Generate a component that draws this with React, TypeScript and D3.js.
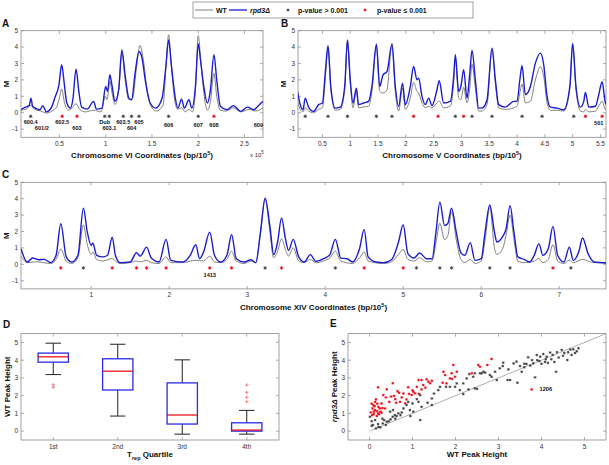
import React from 'react';
import * as d3 from 'd3';

const FONT = "'Liberation Sans', Arial, Helvetica, sans-serif";
const BLUE = '#1c1ccf';
const GRAYLINE = '#808080';
const RED = '#e8000b';
const DARK = '#3c3c3c';
const AXIS = '#8a8a8a';

// ---------- Panel A : Chromosome VI ----------
const chr6WT = [
  [0.085, 0.15], [0.15, 0.25], [0.193, 0.45], [0.23, 0.2], [0.3, 0.1], [0.36, -0.02], [0.42, 0.1], [0.47, 0.35],
  [0.5, 0.9], [0.525, 1.45], [0.555, 0.6], [0.6, 0.15], [0.64, 0.3], [0.68, 0.55], [0.72, 0.2], [0.78, 0.05],
  [0.87, 0.15], [0.95, 0.05], [0.995, 1.0], [1.015, 0.8], [1.045, 1.9], [1.075, 1.0], [1.1, 0.5], [1.14, 1.3],
  [1.175, 3.65], [1.21, 2.0], [1.25, 0.8], [1.29, 0.85], [1.33, 2.6], [1.37, 4.1], [1.41, 3.1], [1.45, 1.3],
  [1.5, 0.3], [1.55, 0.1], [1.62, 0.45], [1.65, 2.6], [1.68, 4.75], [1.71, 2.8], [1.75, 0.6], [1.78, 0.2],
  [1.82, 0.3], [1.86, 0.05], [1.9, 0.2], [1.94, 0.05], [1.97, 1.4], [2.0, 4.7], [2.03, 3.0], [2.07, 0.8],
  [2.1, 0.15], [2.13, 0.6], [2.17, 2.4], [2.2, 1.0], [2.24, 0.15], [2.3, 0.1], [2.38, 0.3], [2.46, 0.05],
  [2.55, 0.2], [2.62, 0.1], [2.7, 0.3]
];
const chr6Rpd3 = [
  [0.085, 0.2], [0.14, 0.35], [0.175, 0.45], [0.193, 0.89], [0.21, 0.4], [0.25, 0.25], [0.29, 0.18], [0.32, 0.43],
  [0.36, 0.05], [0.41, 0.28], [0.45, 0.9], [0.495, 1.7], [0.525, 2.92], [0.55, 1.9], [0.58, 0.59], [0.62, 0.28],
  [0.645, 0.79], [0.68, 2.66], [0.71, 1.3], [0.74, 0.34], [0.8, 0.22], [0.87, 0.69], [0.9, 0.22], [0.96, 0.28],
  [1.0, 1.6], [1.02, 1.3], [1.045, 2.31], [1.07, 1.6], [1.1, 0.69], [1.14, 1.4], [1.175, 3.83], [1.21, 2.3],
  [1.25, 0.89], [1.28, 0.79], [1.32, 2.5], [1.36, 3.73], [1.39, 3.4], [1.43, 1.9], [1.48, 0.59], [1.54, 0.28],
  [1.61, 0.9], [1.65, 2.8], [1.68, 4.44], [1.71, 2.9], [1.75, 0.99], [1.78, 0.28], [1.82, 0.83], [1.85, 0.28],
  [1.9, 0.79], [1.93, 0.28], [1.97, 1.6], [2.0, 4.2], [2.025, 3.2], [2.06, 1.6], [2.1, 0.59], [2.13, 1.3],
  [2.17, 3.53], [2.2, 2.0], [2.24, 0.39], [2.31, 0.18], [2.38, 0.43], [2.46, 0.08], [2.53, 0.34], [2.6, 0.18],
  [2.65, 0.43], [2.7, 0.69]
];
const chr6MarkerX = [0.19, 0.53, 0.69, 0.99, 1.04, 1.19, 1.28, 1.36, 1.68, 2.0, 2.17];
const chr6MarkerSig = [0, 1, 1, 0, 0, 0, 0, 0, 0, 0, 1];
const chr6LabelText = ['600.4', '601/2', '602.5', '603', 'Dub', '603.1', '603.5', '604', '605', '606', '607', '608', '609'];
const chr6LabelX = [0.19, 0.31, 0.53, 0.69, 0.99, 1.04, 1.19, 1.28, 1.36, 1.68, 2.0, 2.17, 2.65];
const chr6LabelY = [-0.7, -1.08, -0.7, -1.08, -0.7, -1.08, -0.7, -1.08, -0.7, -0.88, -0.88, -0.88, -0.88];
const chr6Ticks = [0.5, 1, 1.5, 2, 2.5];

// ---------- Panel B : Chromosome V ----------
const chr5WT = [
  [0.06, 0.6], [0.1, 0.2], [0.15, 0.05], [0.19, 0.3], [0.25, 0.1], [0.34, 0.0], [0.43, 0.2], [0.5, 0.3], [0.55, 2.0],
  [0.6, 4.0], [0.65, 1.4], [0.73, 0.15], [0.82, 0.2], [0.9, 1.4], [0.95, 4.45], [1.0, 1.8], [1.05, 0.3], [1.11, 1.35],
  [1.15, 0.3], [1.24, 0.35], [1.33, 0.4], [1.39, 1.3], [1.47, 4.1], [1.53, 1.3], [1.59, 1.2], [1.66, 1.4], [1.75, 4.25],
  [1.81, 1.3], [1.87, 0.1], [1.94, 1.5], [1.99, 0.2], [2.08, 0.9], [2.14, 1.85], [2.2, 1.3], [2.23, 1.2], [2.29, 0.6],
  [2.35, 0.3], [2.41, 0.4], [2.47, 0.3], [2.56, 0.6], [2.6, 0.7], [2.68, 0.3], [2.8, 0.4], [2.86, 1.8], [2.89, 3.3],
  [2.95, 0.9], [2.99, 0.8], [3.04, 1.55], [3.1, 0.6], [3.15, 1.5], [3.19, 2.95], [3.25, 1.5], [3.31, 0.1], [3.37, 0.1],
  [3.46, 0.5], [3.55, 3.9], [3.61, 1.8], [3.67, 0.3], [3.79, 0.2], [3.94, 0.3], [4.0, 0.4], [4.05, 1.2], [4.09, 1.75],
  [4.15, 0.6], [4.24, 0.7], [4.33, 2.0], [4.42, 2.8], [4.48, 2.2], [4.54, 0.6], [4.6, 0.15], [4.72, 0.15], [4.84, 0.1],
  [4.95, 1.5], [5.0, 4.2], [5.06, 1.4], [5.14, 0.1], [5.2, 0.05], [5.23, 0.2], [5.29, 0.05], [5.41, 0.1], [5.47, 0.4],
  [5.53, 0.7], [5.59, 0.2], [5.65, 0.2]
];
const chr5Rpd3 = [
  [0.05, 1.3], [0.1, 0.49], [0.15, 0.18], [0.19, 0.89], [0.25, 0.34], [0.34, 0.08], [0.43, 0.49], [0.5, 0.59],
  [0.55, 2.41], [0.6, 4.08], [0.65, 1.6], [0.73, 0.28], [0.82, 0.34], [0.9, 1.6], [0.95, 4.4], [1.0, 2.0], [1.05, 0.59],
  [1.11, 1.5], [1.15, 0.49], [1.24, 0.59], [1.33, 0.69], [1.39, 1.6], [1.47, 4.18], [1.53, 1.6], [1.59, 2.31],
  [1.66, 2.5], [1.75, 4.14], [1.81, 1.6], [1.87, 0.39], [1.94, 1.8], [1.99, 0.49], [2.08, 1.6], [2.14, 2.82], [2.2, 2.0],
  [2.23, 2.1], [2.29, 1.0], [2.35, 0.49], [2.41, 0.89], [2.47, 0.43], [2.56, 1.4], [2.6, 1.95], [2.68, 0.59], [2.8, 0.69],
  [2.86, 2.2], [2.89, 3.53], [2.95, 1.3], [2.99, 1.6], [3.04, 2.62], [3.1, 0.89], [3.15, 2.41], [3.19, 3.79], [3.25, 2.0],
  [3.31, 0.28], [3.37, 0.28], [3.46, 0.79], [3.55, 3.94], [3.61, 2.0], [3.67, 0.49], [3.79, 0.34], [3.94, 0.69],
  [4.0, 0.69], [4.05, 2.0], [4.09, 2.86], [4.15, 1.1], [4.24, 1.6], [4.33, 3.02], [4.42, 3.63], [4.48, 2.92],
  [4.54, 1.0], [4.6, 0.34], [4.72, 0.28], [4.84, 0.18], [4.95, 1.6], [5.0, 4.2], [5.06, 1.6], [5.14, 0.34], [5.2, 0.69],
  [5.23, 1.24], [5.29, 0.34], [5.41, 0.39], [5.47, 1.1], [5.53, 1.89], [5.59, 0.59], [5.65, 0.39]
];
const chr5MarkerX = [0.19, 0.6, 0.95, 1.47, 1.75, 2.14, 2.58, 2.89, 3.04, 3.19, 3.55, 4.09, 4.45, 5.02, 5.23, 5.53];
const chr5MarkerSig = [0, 0, 0, 0, 0, 1, 1, 0, 1, 0, 0, 0, 0, 0, 1, 1];
const chr5LabelText = ['501'];
const chr5LabelX = [5.47];
const chr5LabelY = [-0.75];
const chr5Ticks = [0.5, 1, 1.5, 2, 2.5, 3, 3.5, 4, 4.5, 5, 5.5];

// ---------- Panel C : Chromosome XIV ----------
const chr14WT = [
  [0.1, 0.5], [0.18, 0.1], [0.3, 0.15], [0.48, 0.05], [0.55, 0.3], [0.61, 0.93], [0.68, 0.2], [0.75, 0.05], [0.83, 0.4],
  [0.9, 2.4], [0.95, 1.2], [1.0, 0.6], [1.02, 0.75], [1.07, 0.3], [1.15, 0.2], [1.27, 0.35], [1.31, 0.2], [1.37, 0.05],
  [1.5, 0.1], [1.58, 0.2], [1.63, 0.15], [1.71, 0.25], [1.77, 0.1], [1.87, 0.05], [1.96, 0.45], [2.02, 0.1], [2.17, 0.1],
  [2.34, 0.25], [2.44, 0.2], [2.52, 0.5], [2.58, 0.15], [2.66, 0.1], [2.74, 0.3], [2.8, 0.8], [2.86, 0.2], [2.96, 0.05],
  [3.05, 0.2], [3.11, 0.1], [3.17, 1.9], [3.23, 4.0], [3.29, 2.0], [3.34, 0.4], [3.39, 0.8], [3.44, 1.55], [3.49, 0.9],
  [3.53, 0.5], [3.59, 1.0], [3.66, 0.2], [3.73, 0.1], [3.81, 0.3], [3.88, 0.1], [3.98, 0.2], [4.06, 0.4], [4.13, 0.8],
  [4.2, 0.2], [4.35, 0.05], [4.44, 0.4], [4.5, 0.75], [4.55, 0.2], [4.75, 0.05], [4.85, 0.15], [4.94, 0.6], [5.0, 0.9],
  [5.06, 0.3], [5.14, 0.2], [5.21, 0.4], [5.3, 0.15], [5.37, 0.2], [5.42, 1.3], [5.47, 2.5], [5.53, 1.5], [5.57, 1.7],
  [5.62, 3.2], [5.68, 1.5], [5.74, 0.3], [5.79, 0.1], [5.86, 0.3], [5.92, 0.05], [6.0, 0.2], [6.05, 1.5], [6.11, 3.5],
  [6.17, 1.0], [6.2, 0.6], [6.27, 0.9], [6.32, 1.8], [6.37, 3.0], [6.42, 1.5], [6.47, 0.2], [6.55, 0.1], [6.68, 0.2],
  [6.74, 0.35], [6.79, 0.1], [6.86, 0.3], [6.92, 1.2], [6.98, 0.2], [7.06, 0.05], [7.13, 0.25], [7.18, 0.1], [7.3, 0.3],
  [7.37, 0.2], [7.45, 0.1], [7.6, 0.1]
];
const chr14Rpd3 = [
  [0.1, 0.95], [0.18, 0.14], [0.25, 0.38], [0.33, 0.28], [0.4, 0.3], [0.48, 0.1], [0.55, 0.55], [0.61, 2.47],
  [0.68, 0.45], [0.75, 0.14], [0.83, 0.55], [0.9, 3.42], [0.95, 1.96], [1.0, 1.15], [1.02, 1.3], [1.07, 0.55],
  [1.15, 0.45], [1.21, 0.55], [1.27, 1.66], [1.31, 0.55], [1.37, 0.1], [1.5, 0.14], [1.58, 0.7], [1.63, 0.5],
  [1.71, 1.05], [1.77, 0.38], [1.87, 0.14], [1.96, 1.52], [2.02, 0.24], [2.17, 0.14], [2.27, 0.55], [2.34, 1.19],
  [2.39, 0.34], [2.44, 0.75], [2.52, 1.96], [2.58, 0.55], [2.66, 0.14], [2.74, 0.55], [2.8, 1.8], [2.86, 0.34],
  [2.96, 0.14], [3.05, 0.28], [3.11, 0.1], [3.17, 1.96], [3.23, 4.03], [3.29, 2.37], [3.34, 0.59], [3.39, 1.36],
  [3.44, 2.83], [3.49, 1.56], [3.53, 0.85], [3.59, 1.52], [3.66, 0.45], [3.73, 0.14], [3.81, 0.59], [3.88, 0.18],
  [3.98, 0.34], [4.06, 0.59], [4.13, 1.52], [4.2, 0.38], [4.28, 0.34], [4.35, 0.14], [4.44, 0.95], [4.5, 2.13],
  [4.55, 0.45], [4.65, 0.14], [4.75, 0.1], [4.85, 0.28], [4.94, 1.36], [5.0, 2.41], [5.06, 0.65], [5.14, 0.38],
  [5.21, 0.69], [5.3, 0.34], [5.37, 0.34], [5.42, 1.96], [5.47, 3.79], [5.53, 2.37], [5.57, 2.47], [5.62, 3.42],
  [5.68, 1.96], [5.74, 0.7], [5.79, 0.55], [5.86, 1.32], [5.92, 0.24], [6.0, 0.34], [6.05, 1.96], [6.11, 3.62],
  [6.17, 1.96], [6.2, 1.36], [6.27, 1.66], [6.32, 2.17], [6.37, 3.58], [6.42, 1.96], [6.47, 0.45], [6.55, 0.3],
  [6.62, 0.14], [6.68, 0.55], [6.74, 1.26], [6.79, 0.55], [6.86, 0.95], [6.92, 2.31], [6.98, 0.55], [7.06, 0.14],
  [7.13, 1.05], [7.18, 0.24], [7.25, 0.75], [7.3, 1.6], [7.37, 0.65], [7.45, 0.14], [7.6, 0.08]
];
const chr14MarkerX = [0.61, 0.9, 1.27, 1.58, 1.71, 1.96, 2.52, 2.8, 3.23, 3.44, 4.13, 4.5, 5.0, 5.17, 5.47, 5.62, 6.11, 6.37, 6.92, 7.15];
const chr14MarkerSig = [1, 0, 1, 1, 1, 1, 1, 1, 0, 1, 0, 1, 1, 0, 0, 0, 0, 0, 1, 0];
const chr14LabelText = ['1413'];
const chr14LabelX = [2.52];
const chr14LabelY = [-0.78];
const chr14Ticks = [1, 2, 3, 4, 5, 6, 7];

// ---------- Panel D : box plot ----------
const quartileLabels = ['1st', '2nd', '3rd', '4th'];
const whiskerLow = [3.19, 0.85, -0.17, -0.17];
const boxQ1 = [3.89, 2.32, 0.4, 0.0];
const boxMedian = [4.19, 3.38, 0.91, 0.06];
const boxQ3 = [4.4, 4.08, 2.72, 0.47];
const whiskerHigh = [4.96, 4.9, 4.02, 1.17];
const outlierGroup = [1, 1, 4, 4, 4, 4];
const outlierValue = [2.62, 2.48, 2.6, 2.19, 1.91, 1.66];
const peakTicks = [0, 1, 2, 3, 4, 5];

// ---------- Panel E : scatter ----------
const grayPairs = [
  [0.01, 0.81], [0.05, 0.56], [0.13, 0.62], [0.21, 0.24], [0.25, 0.21], [0.15, 0.15], [0.08, 0.35], [0.31, 0.43],
  [0.34, 0.62], [0.4, 0.53], [0.38, 0.35], [0.49, 0.66], [0.54, 0.81], [0.59, 0.9], [0.63, 0.85], [0.67, 1.0],
  [0.55, 1.19], [0.48, 1.1], [0.72, 0.9], [0.79, 1.28], [0.86, 1.47], [0.94, 1.19], [1.02, 1.1], [0.9, 1.65],
  [1.0, 1.56], [1.14, 1.65], [1.18, 2.03], [1.21, 1.37], [1.18, 0.62], [1.45, 1.84], [1.5, 2.12], [1.45, 1.47],
  [1.6, 2.31], [1.64, 2.5], [1.78, 2.5], [1.87, 2.5], [1.99, 2.5], [2.03, 2.69], [2.1, 2.31], [2.18, 2.69],
  [2.26, 2.97], [2.32, 3.22], [2.41, 3.07], [2.45, 3.26], [2.57, 3.26], [2.65, 3.35], [2.18, 2.09], [2.3, 2.35],
  [2.45, 2.41], [2.5, 2.38], [2.61, 3.26], [2.69, 3.3], [2.8, 3.16], [2.84, 3.07], [2.92, 3.35], [2.96, 2.88],
  [3.03, 3.54], [3.11, 3.86], [3.1, 3.67], [3.21, 2.88], [3.27, 2.88], [3.23, 3.48], [3.35, 3.82], [3.42, 3.92],
  [3.44, 2.73], [3.5, 3.67], [3.54, 3.35], [3.6, 3.8], [3.65, 3.79], [3.69, 4.16], [3.74, 3.7], [3.81, 3.82],
  [3.85, 3.03], [3.89, 4.29], [3.9, 4.0], [3.97, 4.2], [4.0, 3.8], [4.04, 4.35], [4.08, 3.9], [4.12, 4.2],
  [4.15, 3.85], [4.2, 4.43], [4.23, 4.05], [4.26, 4.3], [4.3, 3.9], [4.34, 3.35], [4.36, 4.45], [4.4, 4.15],
  [4.47, 4.58], [4.5, 4.25], [4.53, 4.4], [4.6, 4.01], [4.62, 4.45], [4.67, 4.6], [4.7, 4.3], [4.74, 4.61],
  [4.78, 4.4], [4.82, 4.5], [4.86, 4.67], [3.95, 3.95], [4.1, 4.05], [3.78, 4.0], [3.6, 3.6], [0.3, 0.7],
  [0.6, 0.7], [0.75, 1.05], [0.95, 0.85], [1.1, 1.8], [1.35, 1.6], [0.2, 0.4], [0.05, 0.3], [0.45, 0.55]
];
const redPairs = [
  [0.2, 2.47], [0.54, 2.7], [0.4, 2.36], [0.32, 2.03], [0.38, 1.9], [0.46, 1.65], [0.57, 1.98], [0.62, 1.6],
  [0.69, 2.16], [0.75, 1.9], [0.79, 2.12], [0.9, 2.47], [1.02, 2.22], [1.1, 2.5], [1.14, 2.88], [1.21, 2.88],
  [1.25, 2.6], [1.33, 2.92], [1.37, 2.79], [1.41, 2.7], [1.45, 2.84], [1.21, 2.35], [1.06, 2.13], [0.98, 2.04],
  [0.86, 1.79], [0.83, 1.57], [0.71, 1.65], [0.13, 1.65], [0.09, 1.46], [0.07, 1.28], [0.13, 1.19], [0.18, 1.13],
  [0.24, 1.28], [0.1, 0.96], [0.06, 0.9], [0.17, 0.85], [0.28, 1.04], [0.21, 1.37], [0.15, 1.79], [0.28, 1.56],
  [0.36, 1.28], [1.7, 2.73], [1.76, 3.16], [1.72, 3.35], [1.91, 3.26], [1.95, 3.73], [1.99, 3.07], [1.87, 2.97],
  [2.03, 3.35], [1.79, 2.69], [2.53, 3.73], [2.38, 3.26], [2.84, 4.07], [2.74, 3.73], [2.57, 3.63], [3.77, 2.35],
  [0.03, 1.05], [0.2, 1.0], [0.25, 1.1], [0.12, 1.4], [0.05, 1.55], [0.3, 1.3], [0.5, 1.95], [0.65, 2.25],
  [0.92, 2.1], [1.3, 2.45], [1.92, 2.95], [0.18, 1.55], [0.1, 1.1], [0.22, 0.95], [1.0, 2.3], [1.15, 2.1], [0.6, 1.8]
];
const scatterLabelText = '1206';
const scatterLabelIndex = 55;
const diagonal = [[0, 0], [5.5, 5.5]];

function starPath(cx: number, cy: number, r: number) {
  const k = r * 0.72;
  return `M${cx - r},${cy}L${cx + r},${cy}M${cx},${cy - r}L${cx},${cy + r}` +
    `M${cx - k},${cy - k}L${cx + k},${cy + k}M${cx - k},${cy + k}L${cx + k},${cy - k}`;
}

function Frame({ x0, x1, y0, y1, xs, ys, xTickVals, yTickVals }: any) {
  const t = 3;
  return (
    <g>
      <rect x={x0} y={y0} width={x1 - x0} height={y1 - y0} fill="white" stroke={AXIS} strokeWidth={0.8} />
      {xTickVals.map((v: number, i: number) => (
        <g key={'xt' + i}>
          <line x1={xs(v)} x2={xs(v)} y1={y1} y2={y1 - t} stroke={AXIS} strokeWidth={0.7} />
          <line x1={xs(v)} x2={xs(v)} y1={y0} y2={y0 + t} stroke={AXIS} strokeWidth={0.7} />
        </g>
      ))}
      {yTickVals.map((v: number, i: number) => (
        <g key={'yt' + i}>
          <line x1={x0} x2={x0 + t} y1={ys(v)} y2={ys(v)} stroke={AXIS} strokeWidth={0.7} />
          <line x1={x1} x2={x1 - t} y1={ys(v)} y2={ys(v)} stroke={AXIS} strokeWidth={0.7} />
        </g>
      ))}
    </g>
  );
}

function LinePanel(p: any) {
  const { id, x0, x1, y0, y1, xDomain, xTicks, wt, rpd, markerX, markerSig, labelText, labelX, labelY, letter, letterX, title, titleY, showExp } = p;
  const xs = d3.scaleLinear().domain(xDomain).range([x0, x1]);
  const ys = d3.scaleLinear().domain([-1.5, 5]).range([y1, y0]);
  const yTicks = [-1, 0, 1, 2, 3, 4, 5];
  const line = d3.line<number[]>().x(d => xs(d[0])).y(d => ys(d[1])).curve(d3.curveMonotoneX);
  const fmt = (v: number) => String(v);
  return (
    <g>
      <defs>
        <clipPath id={'clip' + id}><rect x={x0} y={y0} width={x1 - x0} height={y1 - y0} /></clipPath>
      </defs>
      <Frame x0={x0} x1={x1} y0={y0} y1={y1} xs={xs} ys={ys} xTickVals={xTicks} yTickVals={yTicks} />
      <g clipPath={`url(#clip${id})`}>
        <path d={line(wt) || ''} fill="none" stroke={GRAYLINE} strokeWidth={1} />
        <path d={line(rpd) || ''} fill="none" stroke={BLUE} strokeWidth={1.4} />
      </g>
      {markerX.map((m: number, i: number) => (
        <path key={'m' + i} d={starPath(xs(m), ys(-0.22), 1.7)} stroke={markerSig[i] ? RED : DARK} strokeWidth={0.85} fill="none" />
      ))}
      {labelText.map((t: string, i: number) => (
        <text key={'l' + i} x={xs(labelX[i])} y={ys(labelY[i])} fontSize={5.6} fontWeight="bold" textAnchor="middle" fill="#111" fontFamily={FONT}>{t}</text>
      ))}
      {xTicks.map((v: number, i: number) => (
        <text key={'xl' + i} x={xs(v)} y={y1 + 8.5} fontSize={6.5} textAnchor="middle" fill="#333" fontFamily={FONT}>{fmt(v)}</text>
      ))}
      {yTicks.map((v: number, i: number) => (
        <text key={'yl' + i} x={x0 - 3} y={ys(v) + 2.3} fontSize={6.5} textAnchor="end" fill="#333" fontFamily={FONT}>{fmt(v)}</text>
      ))}
      <text transform={`translate(${x0 - 12},${(y0 + y1) / 2}) rotate(-90)`} fontSize={8} fontWeight="bold" textAnchor="middle" fill="#111" fontFamily={FONT}>M</text>
      <text x={(x0 + x1) / 2} y={titleY} fontSize={8} fontWeight="bold" textAnchor="middle" fill="#111" fontFamily={FONT}>
        {title}<tspan fontSize={5.5} dy={-3.5}>5</tspan><tspan dy={3.5}>)</tspan>
      </text>
      {showExp && (
        <text x={x1 - 13} y={titleY - 1} fontSize={6} fill="#333" fontFamily={FONT}>x 10<tspan fontSize={4.5} dy={-3}>5</tspan></text>
      )}
      <text x={letterX} y={y0 - 4} fontSize={10} fontWeight="bold" fill="#111" fontFamily={FONT}>{letter}</text>
    </g>
  );
}

function BoxPanel() {
  const x0 = 21, x1 = 279, y0 = 333.6, y1 = 440;
  const xs = d3.scaleLinear().domain([0.5, 4.5]).range([x0, x1]);
  const ys = d3.scaleLinear().domain([-0.5, 5.5]).range([y1, y0]);
  const bw = 0.47, cw = 0.24;
  return (
    <g>
      <Frame x0={x0} x1={x1} y0={y0} y1={y1} xs={xs} ys={ys} xTickVals={[1, 2, 3, 4]} yTickVals={peakTicks} />
      {quartileLabels.map((q, i) => {
        const c = i + 1;
        return (
          <g key={q}>
            <line x1={xs(c)} x2={xs(c)} y1={ys(boxQ3[i])} y2={ys(whiskerHigh[i])} stroke="#222" strokeWidth={1} />
            <line x1={xs(c)} x2={xs(c)} y1={ys(boxQ1[i])} y2={ys(whiskerLow[i])} stroke="#222" strokeWidth={1} />
            <line x1={xs(c - cw / 2)} x2={xs(c + cw / 2)} y1={ys(whiskerHigh[i])} y2={ys(whiskerHigh[i])} stroke="#222" strokeWidth={1} />
            <line x1={xs(c - cw / 2)} x2={xs(c + cw / 2)} y1={ys(whiskerLow[i])} y2={ys(whiskerLow[i])} stroke="#222" strokeWidth={1} />
            <rect x={xs(c - bw / 2)} y={ys(boxQ3[i])} width={xs(c + bw / 2) - xs(c - bw / 2)} height={ys(boxQ1[i]) - ys(boxQ3[i])} fill="white" stroke="#2a2ae8" strokeWidth={1.3} />
            <line x1={xs(c - bw / 2)} x2={xs(c + bw / 2)} y1={ys(boxMedian[i])} y2={ys(boxMedian[i])} stroke={RED} strokeWidth={1.2} />
            <text x={xs(c)} y={y1 + 8.5} fontSize={6.5} textAnchor="middle" fill="#333" fontFamily={FONT}>{q}</text>
          </g>
        );
      })}
      {outlierValue.map((v, i) => (
        <g key={'o' + i} stroke="#f06060" strokeWidth={0.7}>
          <line x1={xs(outlierGroup[i]) - 1.8} x2={xs(outlierGroup[i]) + 1.8} y1={ys(v)} y2={ys(v)} />
          <line x1={xs(outlierGroup[i])} x2={xs(outlierGroup[i])} y1={ys(v) - 1.8} y2={ys(v) + 1.8} />
        </g>
      ))}
      {peakTicks.map(v => (
        <text key={'y' + v} x={x0 - 3} y={ys(v) + 2.3} fontSize={6.5} textAnchor="end" fill="#333" fontFamily={FONT}>{v}</text>
      ))}
      <text transform={`translate(${x0 - 11},${(y0 + y1) / 2}) rotate(-90)`} fontSize={8} fontWeight="bold" textAnchor="middle" fill="#111" fontFamily={FONT}>WT Peak Height</text>
      <text x={(x0 + x1) / 2} y={457} fontSize={8} fontWeight="bold" textAnchor="middle" fill="#111" fontFamily={FONT}>
        T<tspan fontSize={5.5} dy={2.5}>rep</tspan><tspan dy={-2.5}> Quartile</tspan>
      </text>
      <text x={3} y={328} fontSize={10} fontWeight="bold" fill="#111" fontFamily={FONT}>D</text>
    </g>
  );
}

function ScatterPanel() {
  const x0 = 348, x1 = 606, y0 = 333.6, y1 = 440;
  const xs = d3.scaleLinear().domain([-0.5, 5.5]).range([x0, x1]);
  const ys = d3.scaleLinear().domain([-0.5, 5.5]).range([y1, y0]);
  const line = d3.line<number[]>().x(d => xs(d[0])).y(d => ys(d[1]));
  const lab = redPairs[scatterLabelIndex];
  return (
    <g>
      <defs><clipPath id="clipE"><rect x={x0} y={y0} width={x1 - x0} height={y1 - y0} /></clipPath></defs>
      <Frame x0={x0} x1={x1} y0={y0} y1={y1} xs={xs} ys={ys} xTickVals={peakTicks} yTickVals={peakTicks} />
      <path d={line(diagonal) || ''} stroke="#9a9a9a" strokeWidth={0.8} fill="none" clipPath="url(#clipE)" />
      {grayPairs.map((d, i) => (
        <path key={'g' + i} d={starPath(xs(d[0]), ys(d[1]), 1.3)} stroke={DARK} strokeWidth={0.8} fill="none" />
      ))}
      {redPairs.map((d, i) => (
        <path key={'r' + i} d={starPath(xs(d[0]), ys(d[1]), 1.3)} stroke={RED} strokeWidth={0.8} fill="none" />
      ))}
      <text x={xs(lab[0]) + 8} y={ys(lab[1]) + 2} fontSize={5.6} fontWeight="bold" fill="#111" fontFamily={FONT}>{scatterLabelText}</text>
      {peakTicks.map(v => (
        <g key={'t' + v}>
          <text x={xs(v)} y={y1 + 8.5} fontSize={6.5} textAnchor="middle" fill="#333" fontFamily={FONT}>{v}</text>
          <text x={x0 - 3} y={ys(v) + 2.3} fontSize={6.5} textAnchor="end" fill="#333" fontFamily={FONT}>{v}</text>
        </g>
      ))}
      <text transform={`translate(${x0 - 11},${(y0 + y1) / 2}) rotate(-90)`} fontSize={8} fontWeight="bold" textAnchor="middle" fill="#111" fontFamily={FONT}>
        <tspan fontStyle="italic">rpd3Δ</tspan> Peak Height
      </text>
      <text x={(x0 + x1) / 2} y={457} fontSize={8} fontWeight="bold" textAnchor="middle" fill="#111" fontFamily={FONT}>WT Peak Height</text>
      <text x={330} y={327} fontSize={10} fontWeight="bold" fill="#111" fontFamily={FONT}>E</text>
    </g>
  );
}

function Legend() {
  const y = 10;
  return (
    <g fontFamily={FONT} fontSize={7} fontWeight="bold" fill="#111">
      <rect x={193} y={2} width={280} height={16} fill="white" stroke={AXIS} strokeWidth={0.8} />
      <line x1={195} x2={213} y1={y} y2={y} stroke={GRAYLINE} strokeWidth={1} />
      <text x={216} y={y + 2.5}>WT</text>
      <line x1={229} x2={247} y1={y} y2={y} stroke={BLUE} strokeWidth={1.3} />
      <text x={250} y={y + 2.5} fontStyle="italic">rpd3Δ</text>
      <path d={starPath(288, y, 1.5)} stroke={DARK} strokeWidth={0.8} fill="none" />
      <text x={298} y={y + 2.5}>p-value &gt; 0.001</text>
      <path d={starPath(365, y, 1.5)} stroke={RED} strokeWidth={0.8} fill="none" />
      <text x={377} y={y + 2.5}>p-value ≤ 0.001</text>
    </g>
  );
}

export default function App() {
  return (
    <svg width={609} height={465} style={{ position: 'absolute', left: 0, top: 0, background: 'white' }}>
      <rect x={0} y={0} width={609} height={465} fill="white" />
      <Legend />
      <LinePanel id="A" x0={21} x1={263} y0={30.7} y1={137.3} xDomain={[0.085, 2.7]} xTicks={chr6Ticks}
        wt={chr6WT} rpd={chr6Rpd3} markerX={chr6MarkerX} markerSig={chr6MarkerSig}
        labelText={chr6LabelText} labelX={chr6LabelX} labelY={chr6LabelY}
        letter="A" letterX={2} title="Chromosome VI Coordinates (bp/10" titleY={158} showExp={true} />
      <LinePanel id="B" x0={298} x1={606} y0={30.7} y1={137.3} xDomain={[0.06, 5.6]} xTicks={chr5Ticks}
        wt={chr5WT} rpd={chr5Rpd3} markerX={chr5MarkerX} markerSig={chr5MarkerSig}
        labelText={chr5LabelText} labelX={chr5LabelX} labelY={chr5LabelY}
        letter="B" letterX={281} title="Chromosome V Coordinates (bp/10" titleY={158} showExp={false} />
      <LinePanel id="C" x0={21} x1={606} y0={182.3} y1={288.9} xDomain={[0.1, 7.6]} xTicks={chr14Ticks}
        wt={chr14WT} rpd={chr14Rpd3} markerX={chr14MarkerX} markerSig={chr14MarkerSig}
        labelText={chr14LabelText} labelX={chr14LabelX} labelY={chr14LabelY}
        letter="C" letterX={2} title="Chromosome XIV Coordinates (bp/10" titleY={310} showExp={false} />
      <BoxPanel />
      <ScatterPanel />
    </svg>
  );
}
